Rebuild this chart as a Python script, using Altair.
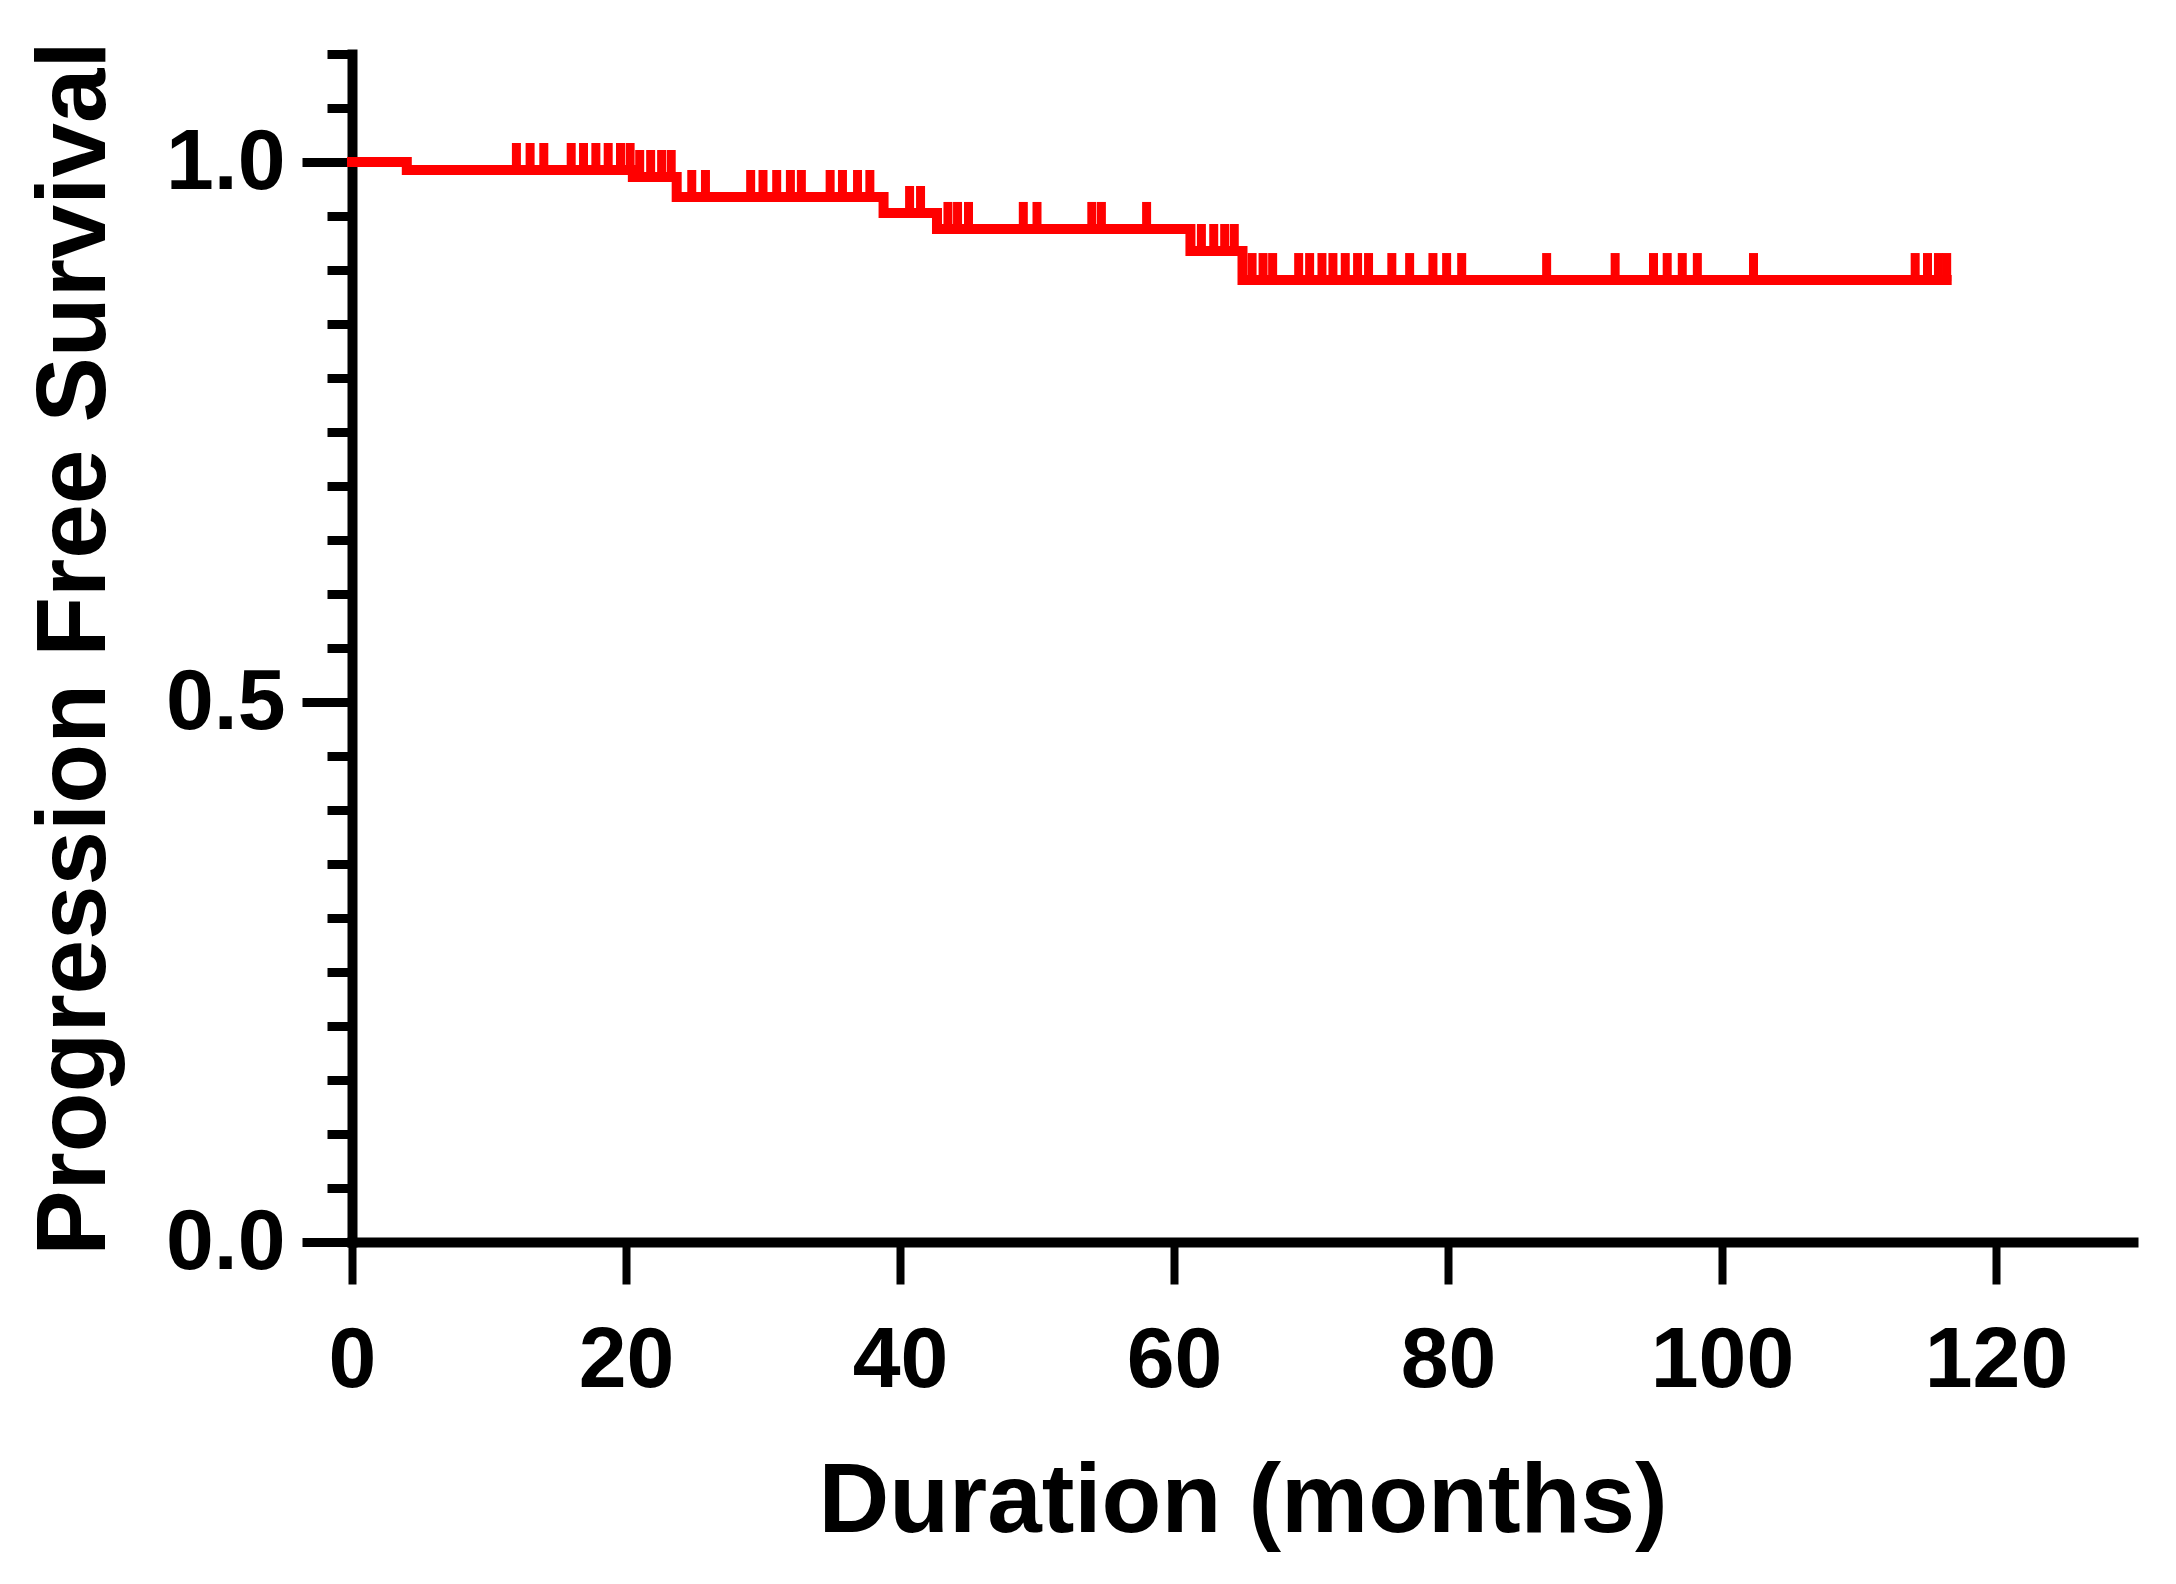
import altair as alt
import pandas as pd

# Kaplan-Meier step curve (time in months, survival)
step_times = [0.0, 4.0, 20.5, 23.7, 38.8, 42.7, 61.2, 65.0, 116.4]
step_surv = [1.0, 0.9926, 0.9861, 0.9676, 0.9528, 0.938, 0.9176, 0.8907, 0.8907]

# censored observations (months)
censor_times = [
    12.0, 13.0, 14.0, 16.0, 16.9, 17.8, 18.7, 19.6, 20.3,
    21.0, 21.8, 22.6, 23.3,
    24.8, 25.8, 29.1, 30.0, 31.0, 32.0, 32.8, 34.9, 35.8, 36.9, 37.8,
    40.7, 41.5,
    43.5, 44.2, 45.0, 49.0, 50.0, 54.0, 54.7, 58.0,
    62.0, 62.9, 63.7, 64.4,
    65.7, 66.5, 67.2, 69.1, 69.9, 70.8, 71.6, 72.5, 73.4, 74.2, 75.9, 77.2,
    78.9, 79.9, 81.0, 87.2, 92.2, 95.0, 96.0, 97.1, 98.2, 102.3,
    114.1, 115.0, 115.8, 116.4,
]

x_ticks = [0, 20, 40, 60, 80, 100, 120]
y_ticks = [0, 0.05, 0.1, 0.15, 0.2, 0.25, 0.3, 0.35, 0.4, 0.45, 0.5, 0.55,
           0.6, 0.65, 0.7, 0.75, 0.8, 0.85, 0.9, 0.95, 1, 1.05, 1.1]
y_major = [0, 0.5, 1]


def surv_at(t):
    s = step_surv[0]
    for tt, ss in zip(step_times, step_surv):
        if tt <= t:
            s = ss
    return s


curve = pd.DataFrame({"t": step_times, "s": step_surv})
cens = pd.DataFrame({"t": censor_times, "s": [surv_at(t) for t in censor_times]})

FONT = "Liberation Sans"
RED = "#ff0000"

xscale = alt.Scale(domain=[0, 130], nice=False, zero=False)
yscale = alt.Scale(domain=[0, 1.1], nice=False, zero=False)

x_axis = alt.Axis(
    values=x_ticks, grid=False, format="d",
    domainColor="black", domainWidth=10, domainCap="square",
    tickColor="black", tickWidth=8, tickSize=42,
    labelFont=FONT, labelFontSize=86, labelFontWeight="bold", labelColor="black",
    labelPadding=34, labelOverlap=False, labelFlush=False,
    title="Duration (months)", titleFont=FONT, titleFontSize=98,
    titleFontWeight="bold", titleColor="black", titleY=212,
)

y_axis = alt.Axis(
    values=y_ticks, grid=False,
    labelExpr="indexof([0, 0.5, 1], datum.value) >= 0 ? format(datum.value, '.1f') : ''",
    domainColor="black", domainWidth=10, domainCap="square",
    tickColor="black", tickWidth=9,
    tickSize={"condition": {"test": "indexof([0, 0.5, 1], datum.value) >= 0", "value": 50}, "value": 25},
    labelFont=FONT, labelFontSize=86, labelFontWeight="bold", labelColor="black",
    labelPadding=17, labelOverlap=False, labelFlush=False,
    title="Progression Free Survival", titleFont=FONT, titleFontSize=98,
    titleFontWeight="bold", titleColor="black", titleX=-227, titleY=594,
)

line = alt.Chart(curve).mark_line(
    interpolate="step-after", color=RED, strokeWidth=10, strokeCap="square"
).encode(
    x=alt.X("t:Q", scale=xscale, axis=x_axis),
    y=alt.Y("s:Q", scale=yscale, axis=y_axis),
)

ticks = alt.Chart(cens).mark_tick(
    orient="vertical", color=RED, size=28, thickness=9, yOffset=-13, opacity=1
).encode(
    x=alt.X("t:Q", scale=xscale),
    y=alt.Y("s:Q", scale=yscale),
)

chart = alt.layer(line, ticks).properties(
    width=1781, height=1188,
    autosize=alt.AutoSizeParams(type="none"),
    padding={"left": 344, "top": 46, "right": 20, "bottom": 332},
    background="white",
).configure_view(stroke=None)

chart.save("out.html", embed_options={"renderer": "svg", "actions": False})
